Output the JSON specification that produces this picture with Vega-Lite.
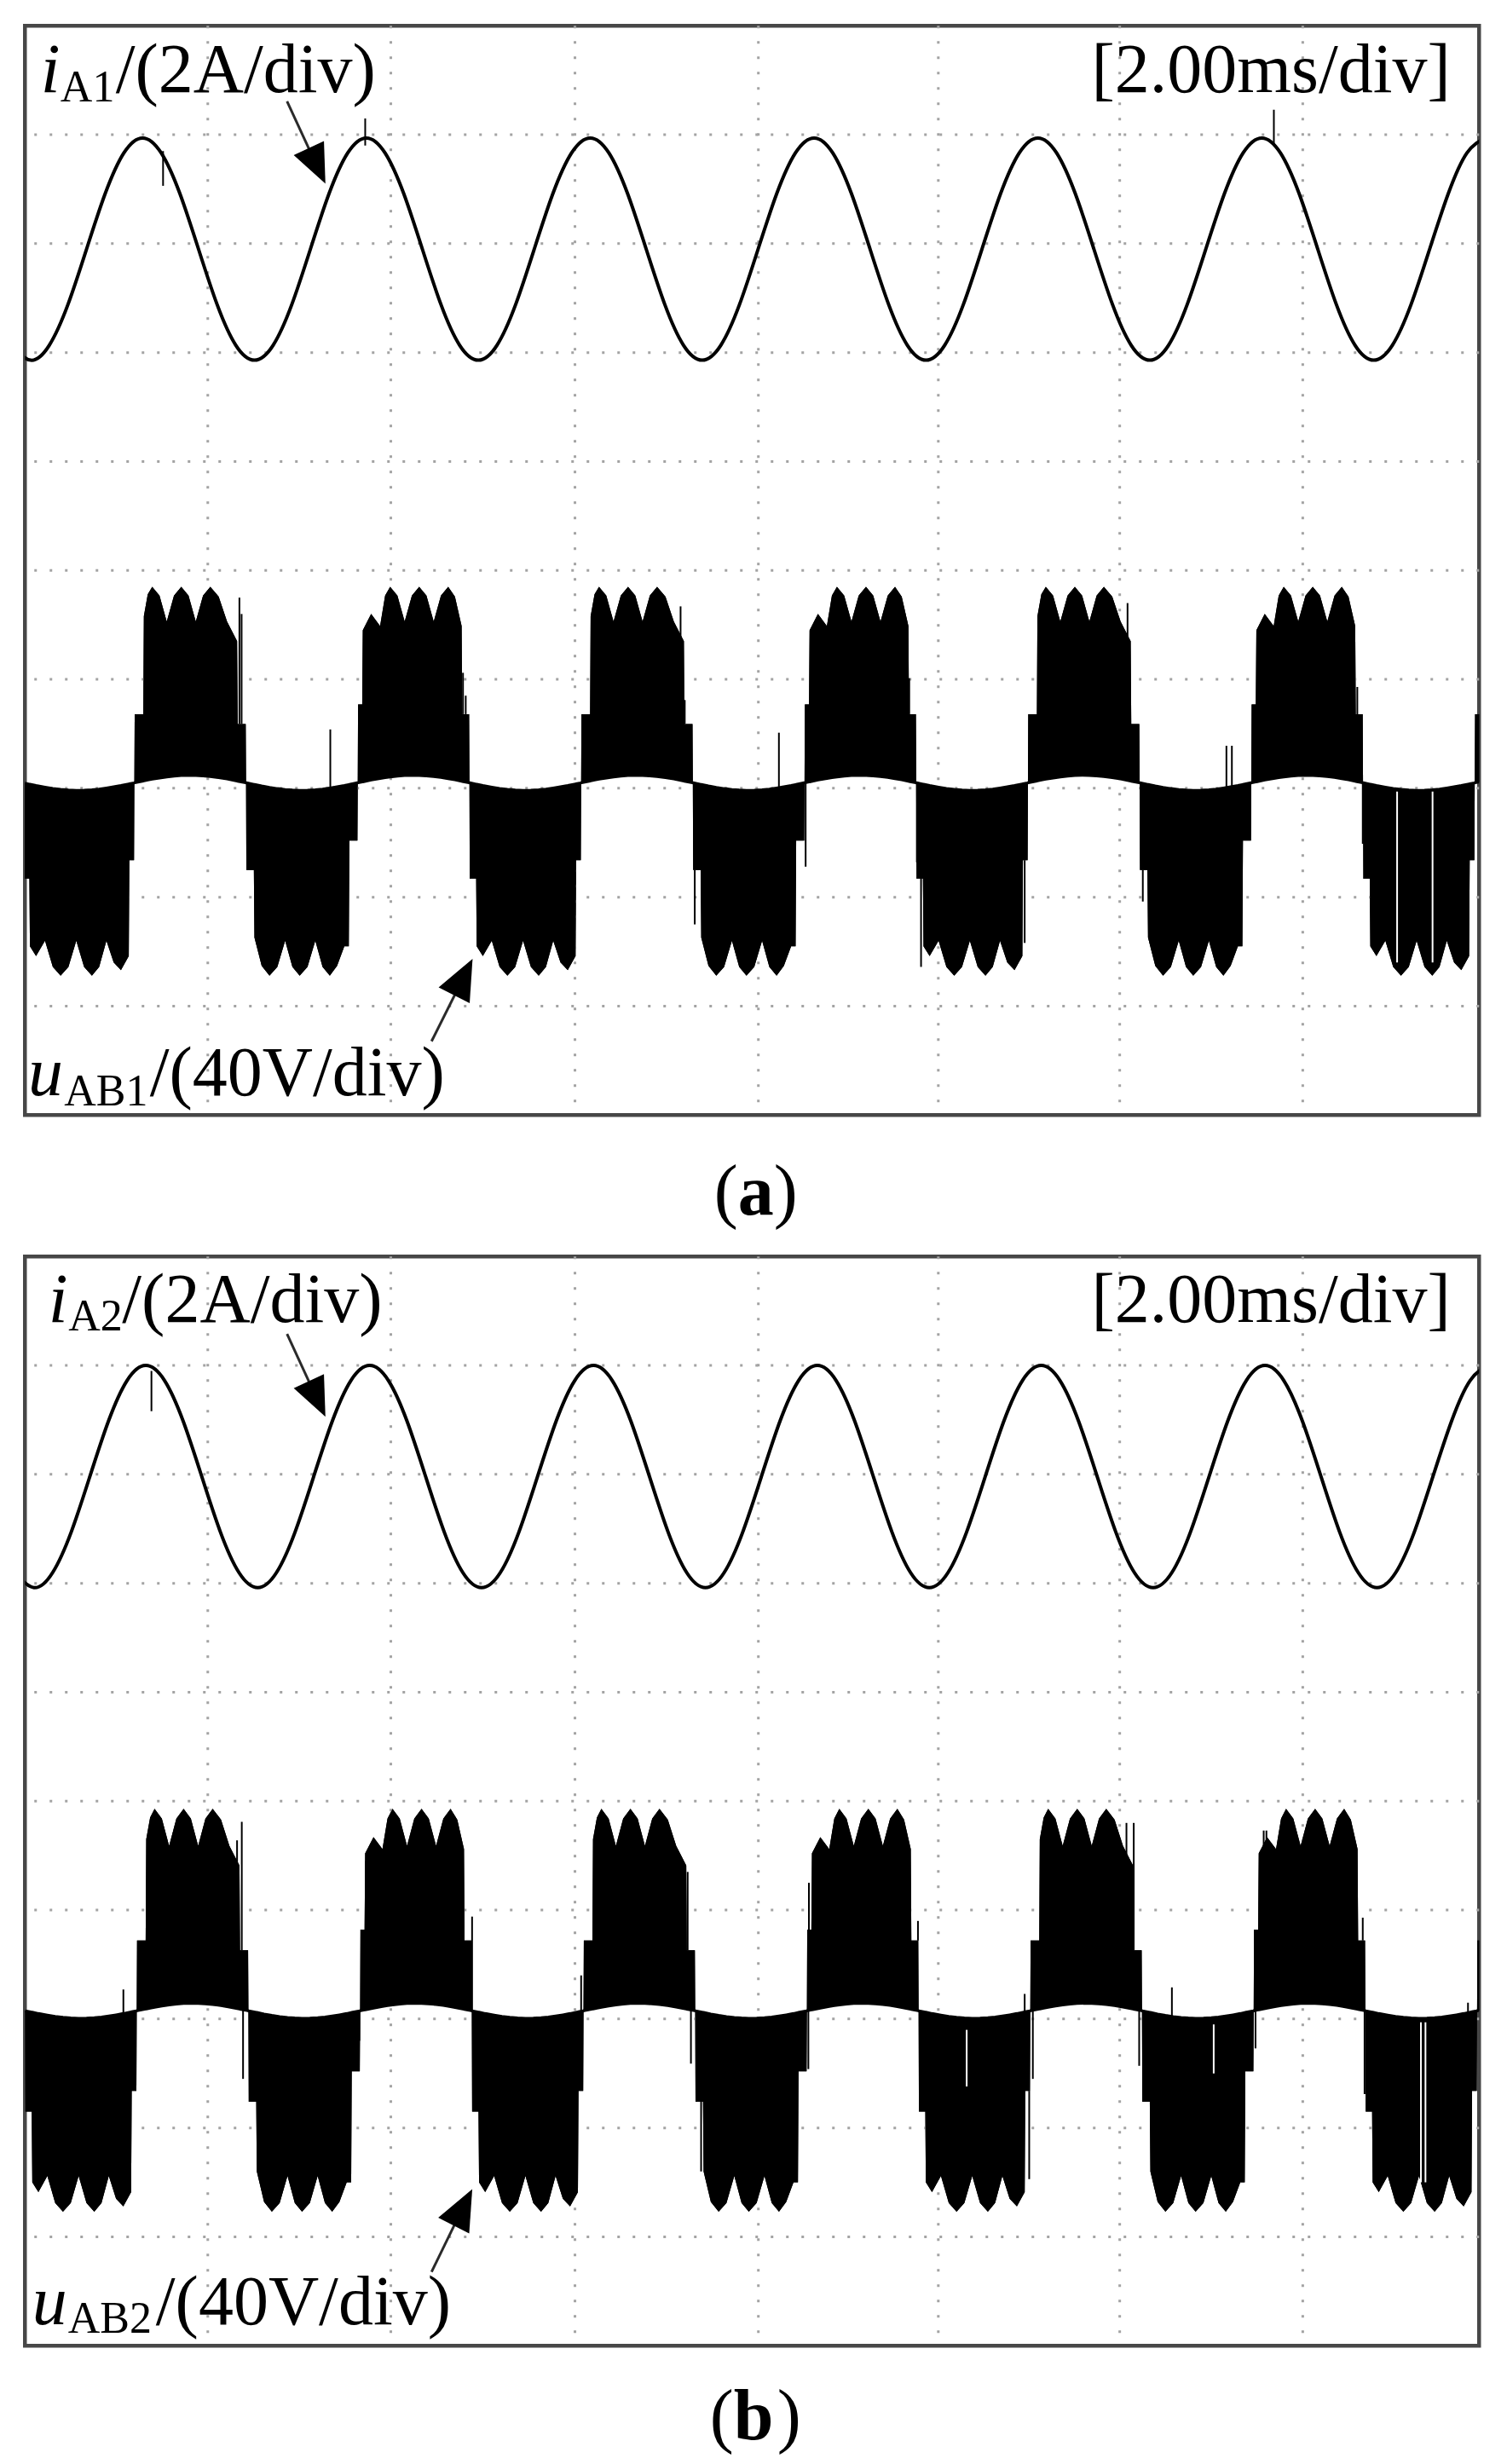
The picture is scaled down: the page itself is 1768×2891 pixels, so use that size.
{
"$schema":"https://vega.github.io/schema/vega-lite/v6.json",
"padding":{"left":25.25,"top":26.25,"right":0,"bottom":0},
"background":"white",
"bounds":"flush",
"spacing":166,
"config":{"view":{"stroke":"#474747","strokeWidth":4.5},"axis":{"labels":false,"ticks":false,"domain":false,"grid":false},"text":{"font":"Liberation Serif","color":"black"}},
"datasets":{
"ua":[
{"t":-0.0125,"v":3.05,"b":3.05},{"t":-0.0107,"v":2.17,"b":3.049},{"t":0.0244,"v":2.17,"b":3.037},{"t":0.0274,"v":1.55,"b":3.036},{"t":0.0612,"v":1.46,"b":3.024},{"t":0.1104,"v":1.6,"b":3.009},{"t":0.1534,"v":1.36,"b":2.997},{"t":0.1964,"v":1.28,"b":2.989},{"t":0.2394,"v":1.36,"b":2.983},{"t":0.2825,"v":1.6,"b":2.98},{"t":0.3255,"v":1.36,"b":2.981},{"t":0.3685,"v":1.28,"b":2.985},{"t":0.4084,"v":1.36,"b":2.991},{"t":0.4484,"v":1.6,"b":3.001},{"t":0.4883,"v":1.4,"b":3.012},{"t":0.5283,"v":1.33,"b":3.024},{"t":0.5713,"v":1.46,"b":3.039},{"t":0.5744,"v":2.34,"b":3.04},{"t":0.6002,"v":2.34,"b":3.049},
{"t":0.602,"v":3.05,"b":3.05},{"t":0.6038,"v":3.68,"b":3.051},{"t":0.6512,"v":3.68,"b":3.067},{"t":0.6542,"v":4.58,"b":3.068},{"t":0.6757,"v":4.78,"b":3.076},{"t":0.7003,"v":4.85,"b":3.084},{"t":0.7403,"v":4.77,"b":3.095},{"t":0.7802,"v":4.53,"b":3.105},{"t":0.8201,"v":4.77,"b":3.113},{"t":0.8601,"v":4.85,"b":3.118},{"t":0.9,"v":4.77,"b":3.12},{"t":0.94,"v":4.53,"b":3.119},{"t":0.9799,"v":4.77,"b":3.115},{"t":1.0199,"v":4.85,"b":3.109},{"t":1.0659,"v":4.76,"b":3.099},{"t":1.112,"v":4.53,"b":3.086},{"t":1.1673,"v":4.35,"b":3.067},{"t":1.1704,"v":3.59,"b":3.066},{"t":1.2147,"v":3.59,"b":3.051},
{"t":1.2165,"v":3.05,"b":3.05},{"t":1.2183,"v":2.25,"b":3.049},{"t":1.2595,"v":2.25,"b":3.035},{"t":1.2626,"v":1.63,"b":3.034},{"t":1.3025,"v":1.37,"b":3.02},{"t":1.3455,"v":1.28,"b":3.007},{"t":1.3886,"v":1.36,"b":2.996},{"t":1.4316,"v":1.6,"b":2.988},{"t":1.4715,"v":1.36,"b":2.983},{"t":1.5115,"v":1.28,"b":2.98},{"t":1.5545,"v":1.36,"b":2.981},{"t":1.5975,"v":1.6,"b":2.985},{"t":1.6374,"v":1.36,"b":2.991},{"t":1.6774,"v":1.28,"b":3.001},{"t":1.7173,"v":1.37,"b":3.012},{"t":1.7573,"v":1.55,"b":3.024},{"t":1.7818,"v":1.55,"b":3.033},{"t":1.7849,"v":2.52,"b":3.034},{"t":1.8292,"v":2.52,"b":3.049},
{"t":1.831,"v":3.05,"b":3.05},{"t":1.8328,"v":3.77,"b":3.051},{"t":1.8556,"v":3.77,"b":3.059},{"t":1.8587,"v":4.45,"b":3.06},{"t":1.9047,"v":4.6,"b":3.076},{"t":1.9539,"v":4.49,"b":3.091},{"t":1.9816,"v":4.77,"b":3.099},{"t":2.0092,"v":4.85,"b":3.105},{"t":2.0491,"v":4.77,"b":3.113},{"t":2.0891,"v":4.53,"b":3.118},{"t":2.129,"v":4.77,"b":3.12},{"t":2.169,"v":4.85,"b":3.119},{"t":2.2089,"v":4.77,"b":3.115},{"t":2.2489,"v":4.53,"b":3.109},{"t":2.2888,"v":4.77,"b":3.1},{"t":2.3287,"v":4.85,"b":3.089},{"t":2.3656,"v":4.76,"b":3.078},{"t":2.4025,"v":4.49,"b":3.065},{"t":2.4056,"v":3.68,"b":3.064},{"t":2.4437,"v":3.68,"b":3.051},
{"t":2.4455,"v":3.05,"b":3.05},{"t":2.4473,"v":2.17,"b":3.049},{"t":2.4824,"v":2.17,"b":3.037},{"t":2.4854,"v":1.55,"b":3.036},{"t":2.5192,"v":1.46,"b":3.024},{"t":2.5684,"v":1.6,"b":3.009},{"t":2.6114,"v":1.36,"b":2.997},{"t":2.6544,"v":1.28,"b":2.989},{"t":2.6974,"v":1.36,"b":2.983},{"t":2.7405,"v":1.6,"b":2.98},{"t":2.7835,"v":1.36,"b":2.981},{"t":2.8265,"v":1.28,"b":2.985},{"t":2.8664,"v":1.36,"b":2.991},{"t":2.9064,"v":1.6,"b":3.001},{"t":2.9463,"v":1.4,"b":3.012},{"t":2.9863,"v":1.33,"b":3.024},{"t":3.0293,"v":1.46,"b":3.039},{"t":3.0324,"v":2.34,"b":3.04},{"t":3.0582,"v":2.34,"b":3.049},
{"t":3.06,"v":3.05,"b":3.05},{"t":3.0618,"v":3.68,"b":3.051},{"t":3.1092,"v":3.68,"b":3.067},{"t":3.1122,"v":4.58,"b":3.068},{"t":3.1337,"v":4.78,"b":3.076},{"t":3.1583,"v":4.85,"b":3.084},{"t":3.1983,"v":4.77,"b":3.095},{"t":3.2382,"v":4.53,"b":3.105},{"t":3.2781,"v":4.77,"b":3.113},{"t":3.3181,"v":4.85,"b":3.118},{"t":3.358,"v":4.77,"b":3.12},{"t":3.398,"v":4.53,"b":3.119},{"t":3.4379,"v":4.77,"b":3.115},{"t":3.4779,"v":4.85,"b":3.109},{"t":3.5239,"v":4.76,"b":3.099},{"t":3.57,"v":4.53,"b":3.086},{"t":3.6253,"v":4.35,"b":3.067},{"t":3.6284,"v":3.59,"b":3.066},{"t":3.6727,"v":3.59,"b":3.051},
{"t":3.6745,"v":3.05,"b":3.05},{"t":3.6763,"v":2.25,"b":3.049},{"t":3.7175,"v":2.25,"b":3.035},{"t":3.7206,"v":1.63,"b":3.034},{"t":3.7605,"v":1.37,"b":3.02},{"t":3.8035,"v":1.28,"b":3.007},{"t":3.8466,"v":1.36,"b":2.996},{"t":3.8896,"v":1.6,"b":2.988},{"t":3.9295,"v":1.36,"b":2.983},{"t":3.9695,"v":1.28,"b":2.98},{"t":4.0125,"v":1.36,"b":2.981},{"t":4.0555,"v":1.6,"b":2.985},{"t":4.0954,"v":1.36,"b":2.991},{"t":4.1354,"v":1.28,"b":3.001},{"t":4.1753,"v":1.37,"b":3.012},{"t":4.2153,"v":1.55,"b":3.024},{"t":4.2398,"v":1.55,"b":3.033},{"t":4.2429,"v":2.52,"b":3.034},{"t":4.2872,"v":2.52,"b":3.049},
{"t":4.289,"v":3.05,"b":3.05},{"t":4.2908,"v":3.77,"b":3.051},{"t":4.3136,"v":3.77,"b":3.059},{"t":4.3167,"v":4.45,"b":3.06},{"t":4.3627,"v":4.6,"b":3.076},{"t":4.4119,"v":4.49,"b":3.091},{"t":4.4396,"v":4.77,"b":3.099},{"t":4.4672,"v":4.85,"b":3.105},{"t":4.5071,"v":4.77,"b":3.113},{"t":4.5471,"v":4.53,"b":3.118},{"t":4.587,"v":4.77,"b":3.12},{"t":4.627,"v":4.85,"b":3.119},{"t":4.6669,"v":4.77,"b":3.115},{"t":4.7069,"v":4.53,"b":3.109},{"t":4.7468,"v":4.77,"b":3.1},{"t":4.7867,"v":4.85,"b":3.089},{"t":4.8236,"v":4.76,"b":3.078},{"t":4.8605,"v":4.49,"b":3.065},{"t":4.8636,"v":3.68,"b":3.064},{"t":4.9017,"v":3.68,"b":3.051},
{"t":4.9035,"v":3.05,"b":3.05},{"t":4.9053,"v":2.17,"b":3.049},{"t":4.9404,"v":2.17,"b":3.037},{"t":4.9434,"v":1.55,"b":3.036},{"t":4.9772,"v":1.46,"b":3.024},{"t":5.0264,"v":1.6,"b":3.009},{"t":5.0694,"v":1.36,"b":2.997},{"t":5.1124,"v":1.28,"b":2.989},{"t":5.1554,"v":1.36,"b":2.983},{"t":5.1985,"v":1.6,"b":2.98},{"t":5.2415,"v":1.36,"b":2.981},{"t":5.2845,"v":1.28,"b":2.985},{"t":5.3244,"v":1.36,"b":2.991},{"t":5.3644,"v":1.6,"b":3.001},{"t":5.4043,"v":1.4,"b":3.012},{"t":5.4443,"v":1.33,"b":3.024},{"t":5.4873,"v":1.46,"b":3.039},{"t":5.4904,"v":2.34,"b":3.04},{"t":5.5162,"v":2.34,"b":3.049},
{"t":5.518,"v":3.05,"b":3.05},{"t":5.5198,"v":3.68,"b":3.051},{"t":5.5672,"v":3.68,"b":3.067},{"t":5.5702,"v":4.58,"b":3.068},{"t":5.5917,"v":4.78,"b":3.076},{"t":5.6163,"v":4.85,"b":3.084},{"t":5.6563,"v":4.77,"b":3.095},{"t":5.6962,"v":4.53,"b":3.105},{"t":5.7361,"v":4.77,"b":3.113},{"t":5.7761,"v":4.85,"b":3.118},{"t":5.816,"v":4.77,"b":3.12},{"t":5.856,"v":4.53,"b":3.119},{"t":5.8959,"v":4.77,"b":3.115},{"t":5.9359,"v":4.85,"b":3.109},{"t":5.9819,"v":4.76,"b":3.099},{"t":6.028,"v":4.53,"b":3.086},{"t":6.0833,"v":4.35,"b":3.067},{"t":6.0864,"v":3.59,"b":3.066},{"t":6.1307,"v":3.59,"b":3.051},
{"t":6.1325,"v":3.05,"b":3.05},{"t":6.1343,"v":2.25,"b":3.049},{"t":6.1755,"v":2.25,"b":3.035},{"t":6.1786,"v":1.63,"b":3.034},{"t":6.2185,"v":1.37,"b":3.02},{"t":6.2615,"v":1.28,"b":3.007},{"t":6.3046,"v":1.36,"b":2.996},{"t":6.3476,"v":1.6,"b":2.988},{"t":6.3875,"v":1.36,"b":2.983},{"t":6.4275,"v":1.28,"b":2.98},{"t":6.4705,"v":1.36,"b":2.981},{"t":6.5135,"v":1.6,"b":2.985},{"t":6.5534,"v":1.36,"b":2.991},{"t":6.5934,"v":1.28,"b":3.001},{"t":6.6333,"v":1.37,"b":3.012},{"t":6.6733,"v":1.55,"b":3.024},{"t":6.6978,"v":1.55,"b":3.033},{"t":6.7009,"v":2.52,"b":3.034},{"t":6.7452,"v":2.52,"b":3.049},
{"t":6.747,"v":3.05,"b":3.05},{"t":6.7488,"v":3.77,"b":3.051},{"t":6.7716,"v":3.77,"b":3.059},{"t":6.7747,"v":4.45,"b":3.06},{"t":6.8207,"v":4.6,"b":3.076},{"t":6.8699,"v":4.49,"b":3.091},{"t":6.8976,"v":4.77,"b":3.099},{"t":6.9252,"v":4.85,"b":3.105},{"t":6.9651,"v":4.77,"b":3.113},{"t":7.0051,"v":4.53,"b":3.118},{"t":7.045,"v":4.77,"b":3.12},{"t":7.085,"v":4.85,"b":3.119},{"t":7.1249,"v":4.77,"b":3.115},{"t":7.1649,"v":4.53,"b":3.109},{"t":7.2048,"v":4.77,"b":3.1},{"t":7.2447,"v":4.85,"b":3.089},{"t":7.2816,"v":4.76,"b":3.078},{"t":7.3185,"v":4.49,"b":3.065},{"t":7.3216,"v":3.68,"b":3.064},{"t":7.3597,"v":3.68,"b":3.051},
{"t":7.3615,"v":3.05,"b":3.05},{"t":7.3633,"v":2.17,"b":3.049},{"t":7.3984,"v":2.17,"b":3.037},{"t":7.4014,"v":1.55,"b":3.036},{"t":7.4352,"v":1.46,"b":3.024},{"t":7.4844,"v":1.6,"b":3.009},{"t":7.5274,"v":1.36,"b":2.997},{"t":7.5704,"v":1.28,"b":2.989},{"t":7.6134,"v":1.36,"b":2.983},{"t":7.6565,"v":1.6,"b":2.98},{"t":7.6995,"v":1.36,"b":2.981},{"t":7.7425,"v":1.28,"b":2.985},{"t":7.7824,"v":1.36,"b":2.991},{"t":7.8224,"v":1.6,"b":3.001},{"t":7.8623,"v":1.4,"b":3.012},{"t":7.9023,"v":1.33,"b":3.024},{"t":7.9453,"v":1.46,"b":3.039},{"t":7.9484,"v":2.34,"b":3.04},{"t":7.9742,"v":2.34,"b":3.049},
{"t":7.976,"v":3.05,"b":3.05},{"t":7.9778,"v":3.68,"b":3.051},{"t":8.0252,"v":3.68,"b":3.067}
],
"ub":[
{"t":0.0005,"v":3.075,"b":3.075},{"t":0.0023,"v":2.15,"b":3.074},{"t":0.0374,"v":2.15,"b":3.062},{"t":0.0404,"v":1.5,"b":3.061},{"t":0.0742,"v":1.41,"b":3.049},{"t":0.1234,"v":1.56,"b":3.034},{"t":0.1664,"v":1.31,"b":3.022},{"t":0.2094,"v":1.23,"b":3.014},{"t":0.2524,"v":1.31,"b":3.008},{"t":0.2955,"v":1.56,"b":3.005},{"t":0.3385,"v":1.31,"b":3.006},{"t":0.3815,"v":1.23,"b":3.01},{"t":0.4214,"v":1.31,"b":3.016},{"t":0.4614,"v":1.56,"b":3.026},{"t":0.5013,"v":1.35,"b":3.037},{"t":0.5413,"v":1.28,"b":3.049},{"t":0.5843,"v":1.41,"b":3.064},{"t":0.5874,"v":2.34,"b":3.065},{"t":0.6132,"v":2.34,"b":3.074},
{"t":0.615,"v":3.075,"b":3.075},{"t":0.6168,"v":3.72,"b":3.076},{"t":0.6642,"v":3.72,"b":3.092},{"t":0.6672,"v":4.65,"b":3.093},{"t":0.6887,"v":4.85,"b":3.101},{"t":0.7133,"v":4.93,"b":3.109},{"t":0.7533,"v":4.84,"b":3.12},{"t":0.7932,"v":4.59,"b":3.13},{"t":0.8331,"v":4.84,"b":3.138},{"t":0.8731,"v":4.93,"b":3.143},{"t":0.913,"v":4.84,"b":3.145},{"t":0.953,"v":4.59,"b":3.144},{"t":0.9929,"v":4.84,"b":3.14},{"t":1.0329,"v":4.93,"b":3.134},{"t":1.0789,"v":4.83,"b":3.124},{"t":1.125,"v":4.59,"b":3.111},{"t":1.1803,"v":4.41,"b":3.092},{"t":1.1834,"v":3.63,"b":3.091},{"t":1.2277,"v":3.63,"b":3.076},
{"t":1.2295,"v":3.075,"b":3.075},{"t":1.2313,"v":2.24,"b":3.074},{"t":1.2725,"v":2.24,"b":3.06},{"t":1.2756,"v":1.6,"b":3.059},{"t":1.3155,"v":1.32,"b":3.045},{"t":1.3585,"v":1.23,"b":3.032},{"t":1.4016,"v":1.31,"b":3.021},{"t":1.4446,"v":1.56,"b":3.013},{"t":1.4845,"v":1.31,"b":3.008},{"t":1.5245,"v":1.23,"b":3.005},{"t":1.5675,"v":1.31,"b":3.006},{"t":1.6105,"v":1.56,"b":3.01},{"t":1.6504,"v":1.31,"b":3.016},{"t":1.6904,"v":1.23,"b":3.026},{"t":1.7303,"v":1.32,"b":3.037},{"t":1.7703,"v":1.5,"b":3.049},{"t":1.7948,"v":1.5,"b":3.058},{"t":1.7979,"v":2.52,"b":3.059},{"t":1.8422,"v":2.52,"b":3.074},
{"t":1.844,"v":3.075,"b":3.075},{"t":1.8458,"v":3.82,"b":3.076},{"t":1.8686,"v":3.82,"b":3.084},{"t":1.8717,"v":4.52,"b":3.085},{"t":1.9177,"v":4.67,"b":3.101},{"t":1.9669,"v":4.56,"b":3.116},{"t":1.9946,"v":4.84,"b":3.124},{"t":2.0222,"v":4.93,"b":3.13},{"t":2.0621,"v":4.84,"b":3.138},{"t":2.1021,"v":4.59,"b":3.143},{"t":2.142,"v":4.84,"b":3.145},{"t":2.182,"v":4.93,"b":3.144},{"t":2.2219,"v":4.84,"b":3.14},{"t":2.2619,"v":4.59,"b":3.134},{"t":2.3018,"v":4.84,"b":3.125},{"t":2.3417,"v":4.93,"b":3.114},{"t":2.3786,"v":4.83,"b":3.103},{"t":2.4155,"v":4.56,"b":3.09},{"t":2.4186,"v":3.72,"b":3.089},{"t":2.4567,"v":3.72,"b":3.076},
{"t":2.4585,"v":3.075,"b":3.075},{"t":2.4603,"v":2.15,"b":3.074},{"t":2.4954,"v":2.15,"b":3.062},{"t":2.4984,"v":1.5,"b":3.061},{"t":2.5322,"v":1.41,"b":3.049},{"t":2.5814,"v":1.56,"b":3.034},{"t":2.6244,"v":1.31,"b":3.022},{"t":2.6674,"v":1.23,"b":3.014},{"t":2.7104,"v":1.31,"b":3.008},{"t":2.7535,"v":1.56,"b":3.005},{"t":2.7965,"v":1.31,"b":3.006},{"t":2.8395,"v":1.23,"b":3.01},{"t":2.8794,"v":1.31,"b":3.016},{"t":2.9194,"v":1.56,"b":3.026},{"t":2.9593,"v":1.35,"b":3.037},{"t":2.9993,"v":1.28,"b":3.049},{"t":3.0423,"v":1.41,"b":3.064},{"t":3.0454,"v":2.34,"b":3.065},{"t":3.0712,"v":2.34,"b":3.074},
{"t":3.073,"v":3.075,"b":3.075},{"t":3.0748,"v":3.72,"b":3.076},{"t":3.1222,"v":3.72,"b":3.092},{"t":3.1252,"v":4.65,"b":3.093},{"t":3.1467,"v":4.85,"b":3.101},{"t":3.1713,"v":4.93,"b":3.109},{"t":3.2113,"v":4.84,"b":3.12},{"t":3.2512,"v":4.59,"b":3.13},{"t":3.2911,"v":4.84,"b":3.138},{"t":3.3311,"v":4.93,"b":3.143},{"t":3.371,"v":4.84,"b":3.145},{"t":3.411,"v":4.59,"b":3.144},{"t":3.4509,"v":4.84,"b":3.14},{"t":3.4909,"v":4.93,"b":3.134},{"t":3.5369,"v":4.83,"b":3.124},{"t":3.583,"v":4.59,"b":3.111},{"t":3.6383,"v":4.41,"b":3.092},{"t":3.6414,"v":3.63,"b":3.091},{"t":3.6857,"v":3.63,"b":3.076},
{"t":3.6875,"v":3.075,"b":3.075},{"t":3.6893,"v":2.24,"b":3.074},{"t":3.7305,"v":2.24,"b":3.06},{"t":3.7336,"v":1.6,"b":3.059},{"t":3.7735,"v":1.32,"b":3.045},{"t":3.8165,"v":1.23,"b":3.032},{"t":3.8596,"v":1.31,"b":3.021},{"t":3.9026,"v":1.56,"b":3.013},{"t":3.9425,"v":1.31,"b":3.008},{"t":3.9825,"v":1.23,"b":3.005},{"t":4.0255,"v":1.31,"b":3.006},{"t":4.0685,"v":1.56,"b":3.01},{"t":4.1084,"v":1.31,"b":3.016},{"t":4.1484,"v":1.23,"b":3.026},{"t":4.1883,"v":1.32,"b":3.037},{"t":4.2283,"v":1.5,"b":3.049},{"t":4.2528,"v":1.5,"b":3.058},{"t":4.2559,"v":2.52,"b":3.059},{"t":4.3002,"v":2.52,"b":3.074},
{"t":4.302,"v":3.075,"b":3.075},{"t":4.3038,"v":3.82,"b":3.076},{"t":4.3266,"v":3.82,"b":3.084},{"t":4.3297,"v":4.52,"b":3.085},{"t":4.3757,"v":4.67,"b":3.101},{"t":4.4249,"v":4.56,"b":3.116},{"t":4.4526,"v":4.84,"b":3.124},{"t":4.4802,"v":4.93,"b":3.13},{"t":4.5201,"v":4.84,"b":3.138},{"t":4.5601,"v":4.59,"b":3.143},{"t":4.6,"v":4.84,"b":3.145},{"t":4.64,"v":4.93,"b":3.144},{"t":4.6799,"v":4.84,"b":3.14},{"t":4.7199,"v":4.59,"b":3.134},{"t":4.7598,"v":4.84,"b":3.125},{"t":4.7997,"v":4.93,"b":3.114},{"t":4.8366,"v":4.83,"b":3.103},{"t":4.8735,"v":4.56,"b":3.09},{"t":4.8766,"v":3.72,"b":3.089},{"t":4.9147,"v":3.72,"b":3.076},
{"t":4.9165,"v":3.075,"b":3.075},{"t":4.9183,"v":2.15,"b":3.074},{"t":4.9534,"v":2.15,"b":3.062},{"t":4.9564,"v":1.5,"b":3.061},{"t":4.9902,"v":1.41,"b":3.049},{"t":5.0394,"v":1.56,"b":3.034},{"t":5.0824,"v":1.31,"b":3.022},{"t":5.1254,"v":1.23,"b":3.014},{"t":5.1684,"v":1.31,"b":3.008},{"t":5.2115,"v":1.56,"b":3.005},{"t":5.2545,"v":1.31,"b":3.006},{"t":5.2975,"v":1.23,"b":3.01},{"t":5.3374,"v":1.31,"b":3.016},{"t":5.3774,"v":1.56,"b":3.026},{"t":5.4173,"v":1.35,"b":3.037},{"t":5.4573,"v":1.28,"b":3.049},{"t":5.5003,"v":1.41,"b":3.064},{"t":5.5034,"v":2.34,"b":3.065},{"t":5.5292,"v":2.34,"b":3.074},
{"t":5.531,"v":3.075,"b":3.075},{"t":5.5328,"v":3.72,"b":3.076},{"t":5.5802,"v":3.72,"b":3.092},{"t":5.5832,"v":4.65,"b":3.093},{"t":5.6047,"v":4.85,"b":3.101},{"t":5.6293,"v":4.93,"b":3.109},{"t":5.6693,"v":4.84,"b":3.12},{"t":5.7092,"v":4.59,"b":3.13},{"t":5.7491,"v":4.84,"b":3.138},{"t":5.7891,"v":4.93,"b":3.143},{"t":5.829,"v":4.84,"b":3.145},{"t":5.869,"v":4.59,"b":3.144},{"t":5.9089,"v":4.84,"b":3.14},{"t":5.9489,"v":4.93,"b":3.134},{"t":5.9949,"v":4.83,"b":3.124},{"t":6.041,"v":4.59,"b":3.111},{"t":6.0963,"v":4.41,"b":3.092},{"t":6.0994,"v":3.63,"b":3.091},{"t":6.1437,"v":3.63,"b":3.076},
{"t":6.1455,"v":3.075,"b":3.075},{"t":6.1473,"v":2.24,"b":3.074},{"t":6.1885,"v":2.24,"b":3.06},{"t":6.1916,"v":1.6,"b":3.059},{"t":6.2315,"v":1.32,"b":3.045},{"t":6.2745,"v":1.23,"b":3.032},{"t":6.3176,"v":1.31,"b":3.021},{"t":6.3606,"v":1.56,"b":3.013},{"t":6.4005,"v":1.31,"b":3.008},{"t":6.4405,"v":1.23,"b":3.005},{"t":6.4835,"v":1.31,"b":3.006},{"t":6.5265,"v":1.56,"b":3.01},{"t":6.5664,"v":1.31,"b":3.016},{"t":6.6064,"v":1.23,"b":3.026},{"t":6.6463,"v":1.32,"b":3.037},{"t":6.6863,"v":1.5,"b":3.049},{"t":6.7108,"v":1.5,"b":3.058},{"t":6.7139,"v":2.52,"b":3.059},{"t":6.7582,"v":2.52,"b":3.074},
{"t":6.76,"v":3.075,"b":3.075},{"t":6.7618,"v":3.82,"b":3.076},{"t":6.7846,"v":3.82,"b":3.084},{"t":6.7877,"v":4.52,"b":3.085},{"t":6.8337,"v":4.67,"b":3.101},{"t":6.8829,"v":4.56,"b":3.116},{"t":6.9106,"v":4.84,"b":3.124},{"t":6.9382,"v":4.93,"b":3.13},{"t":6.9781,"v":4.84,"b":3.138},{"t":7.0181,"v":4.59,"b":3.143},{"t":7.058,"v":4.84,"b":3.145},{"t":7.098,"v":4.93,"b":3.144},{"t":7.1379,"v":4.84,"b":3.14},{"t":7.1779,"v":4.59,"b":3.134},{"t":7.2178,"v":4.84,"b":3.125},{"t":7.2577,"v":4.93,"b":3.114},{"t":7.2946,"v":4.83,"b":3.103},{"t":7.3315,"v":4.56,"b":3.09},{"t":7.3346,"v":3.72,"b":3.089},{"t":7.3727,"v":3.72,"b":3.076},
{"t":7.3745,"v":3.075,"b":3.075},{"t":7.3763,"v":2.15,"b":3.074},{"t":7.4114,"v":2.15,"b":3.062},{"t":7.4144,"v":1.5,"b":3.061},{"t":7.4482,"v":1.41,"b":3.049},{"t":7.4974,"v":1.56,"b":3.034},{"t":7.5404,"v":1.31,"b":3.022},{"t":7.5834,"v":1.23,"b":3.014},{"t":7.6264,"v":1.31,"b":3.008},{"t":7.6695,"v":1.56,"b":3.005},{"t":7.7125,"v":1.31,"b":3.006},{"t":7.7555,"v":1.23,"b":3.01},{"t":7.7954,"v":1.31,"b":3.016},{"t":7.8354,"v":1.56,"b":3.026},{"t":7.8753,"v":1.35,"b":3.037},{"t":7.9153,"v":1.28,"b":3.049},{"t":7.9583,"v":1.41,"b":3.064},{"t":7.9614,"v":2.34,"b":3.065},{"t":7.9872,"v":2.34,"b":3.074},
{"t":7.989,"v":3.075,"b":3.075},{"t":7.9908,"v":3.72,"b":3.076},{"t":8.0382,"v":3.72,"b":3.092}
],
"ia":[
{"t":-0.0714,"i":7.067},{"t":0.0313,"i":6.93},{"t":0.1339,"i":7.067},{"t":0.2365,"i":7.44},{"t":0.3391,"i":7.95},{"t":0.4418,"i":8.46},{"t":0.5444,"i":8.833},{"t":0.647,"i":8.97},{"t":0.7496,"i":8.833},{"t":0.8523,"i":8.46},{"t":0.9549,"i":7.95},{"t":1.0575,"i":7.44},{"t":1.1601,"i":7.067},{"t":1.2628,"i":6.93},{"t":1.3654,"i":7.067},{"t":1.468,"i":7.44},{"t":1.5706,"i":7.95},{"t":1.6733,"i":8.46},{"t":1.7759,"i":8.833},{"t":1.8785,"i":8.97},{"t":1.9811,"i":8.833},{"t":2.0838,"i":8.46},{"t":2.1864,"i":7.95},{"t":2.289,"i":7.44},{"t":2.3916,"i":7.067},{"t":2.4943,"i":6.93},{"t":2.5969,"i":7.067},{"t":2.6995,"i":7.44},{"t":2.8021,"i":7.95},{"t":2.9048,"i":8.46},{"t":3.0074,"i":8.833},{"t":3.11,"i":8.97},{"t":3.2126,"i":8.833},{"t":3.3153,"i":8.46},{"t":3.4179,"i":7.95},{"t":3.5205,"i":7.44},{"t":3.6231,"i":7.067},{"t":3.7258,"i":6.93},{"t":3.8284,"i":7.067},{"t":3.931,"i":7.44},{"t":4.0336,"i":7.95},{"t":4.1363,"i":8.46},{"t":4.2389,"i":8.833},{"t":4.3415,"i":8.97},{"t":4.4441,"i":8.833},{"t":4.5468,"i":8.46},{"t":4.6494,"i":7.95},{"t":4.752,"i":7.44},{"t":4.8546,"i":7.067},{"t":4.9573,"i":6.93},{"t":5.0599,"i":7.067},{"t":5.1625,"i":7.44},{"t":5.2651,"i":7.95},{"t":5.3678,"i":8.46},{"t":5.4704,"i":8.833},{"t":5.573,"i":8.97},{"t":5.6756,"i":8.833},{"t":5.7783,"i":8.46},{"t":5.8809,"i":7.95},{"t":5.9835,"i":7.44},{"t":6.0861,"i":7.067},{"t":6.1888,"i":6.93},{"t":6.2914,"i":7.067},{"t":6.394,"i":7.44},{"t":6.4966,"i":7.95},{"t":6.5993,"i":8.46},{"t":6.7019,"i":8.833},{"t":6.8045,"i":8.97},{"t":6.9071,"i":8.833},{"t":7.0098,"i":8.46},{"t":7.1124,"i":7.95},{"t":7.215,"i":7.44},{"t":7.3176,"i":7.067},{"t":7.4203,"i":6.93},{"t":7.5229,"i":7.067},{"t":7.6255,"i":7.44},{"t":7.7281,"i":7.95},{"t":7.8308,"i":8.46},{"t":7.9334,"i":8.833},{"t":8.036,"i":8.97}
],
"ib":[
{"t":-0.0534,"i":7.097},{"t":0.0493,"i":6.96},{"t":0.1519,"i":7.097},{"t":0.2545,"i":7.47},{"t":0.3571,"i":7.98},{"t":0.4598,"i":8.49},{"t":0.5624,"i":8.863},{"t":0.665,"i":9.0},{"t":0.7676,"i":8.863},{"t":0.8703,"i":8.49},{"t":0.9729,"i":7.98},{"t":1.0755,"i":7.47},{"t":1.1781,"i":7.097},{"t":1.2808,"i":6.96},{"t":1.3834,"i":7.097},{"t":1.486,"i":7.47},{"t":1.5886,"i":7.98},{"t":1.6913,"i":8.49},{"t":1.7939,"i":8.863},{"t":1.8965,"i":9.0},{"t":1.9991,"i":8.863},{"t":2.1018,"i":8.49},{"t":2.2044,"i":7.98},{"t":2.307,"i":7.47},{"t":2.4096,"i":7.097},{"t":2.5123,"i":6.96},{"t":2.6149,"i":7.097},{"t":2.7175,"i":7.47},{"t":2.8201,"i":7.98},{"t":2.9228,"i":8.49},{"t":3.0254,"i":8.863},{"t":3.128,"i":9.0},{"t":3.2306,"i":8.863},{"t":3.3333,"i":8.49},{"t":3.4359,"i":7.98},{"t":3.5385,"i":7.47},{"t":3.6411,"i":7.097},{"t":3.7438,"i":6.96},{"t":3.8464,"i":7.097},{"t":3.949,"i":7.47},{"t":4.0516,"i":7.98},{"t":4.1543,"i":8.49},{"t":4.2569,"i":8.863},{"t":4.3595,"i":9.0},{"t":4.4621,"i":8.863},{"t":4.5648,"i":8.49},{"t":4.6674,"i":7.98},{"t":4.77,"i":7.47},{"t":4.8726,"i":7.097},{"t":4.9753,"i":6.96},{"t":5.0779,"i":7.097},{"t":5.1805,"i":7.47},{"t":5.2831,"i":7.98},{"t":5.3858,"i":8.49},{"t":5.4884,"i":8.863},{"t":5.591,"i":9.0},{"t":5.6936,"i":8.863},{"t":5.7963,"i":8.49},{"t":5.8989,"i":7.98},{"t":6.0015,"i":7.47},{"t":6.1041,"i":7.097},{"t":6.2068,"i":6.96},{"t":6.3094,"i":7.097},{"t":6.412,"i":7.47},{"t":6.5146,"i":7.98},{"t":6.6173,"i":8.49},{"t":6.7199,"i":8.863},{"t":6.8225,"i":9.0},{"t":6.9251,"i":8.863},{"t":7.0278,"i":8.49},{"t":7.1304,"i":7.98},{"t":7.233,"i":7.47},{"t":7.3356,"i":7.097},{"t":7.4383,"i":6.96},{"t":7.5409,"i":7.097},{"t":7.6435,"i":7.47},{"t":7.7461,"i":7.98},{"t":7.8488,"i":8.49},{"t":7.9514,"i":8.863},{"t":8.054,"i":9.0}
],
"sa":[
{"t":1.18,"lo":3.59,"hi":4.75},{"t":1.192,"lo":3.59,"hi":4.6},{"t":1.68,"lo":3.0,"hi":3.54},{"t":2.41,"lo":3.68,"hi":4.06},{"t":2.425,"lo":3.68,"hi":3.85},{"t":3.607,"lo":3.59,"hi":4.67},{"t":3.63,"lo":3.59,"hi":3.81},{"t":3.685,"lo":1.75,"hi":2.25},{"t":4.148,"lo":3.0,"hi":3.51},{"t":4.295,"lo":2.28,"hi":3.05},{"t":4.865,"lo":3.68,"hi":4.01},{"t":4.907,"lo":2.32,"hi":3.05},{"t":4.93,"lo":1.36,"hi":2.17},{"t":5.5,"lo":1.58,"hi":2.34},{"t":6.066,"lo":4.35,"hi":4.7},{"t":6.15,"lo":1.96,"hi":2.25},{"t":6.61,"lo":3.0,"hi":3.39},{"t":6.64,"lo":3.0,"hi":3.39},{"t":6.733,"lo":2.85,"hi":3.05},{"t":7.33,"lo":3.68,"hi":3.93},{"t":7.36,"lo":2.49,"hi":3.05},
{"t":1.872,"lo":8.9,"hi":9.15},{"t":6.871,"lo":8.9,"hi":9.23},{"t":0.76,"lo":8.53,"hi":8.85}
],
"sb":[
{"t":0.5416,"lo":3.0,"hi":3.27},{"t":1.167,"lo":3.63,"hi":4.64},{"t":1.193,"lo":3.63,"hi":4.81},{"t":1.2,"lo":2.45,"hi":3.08},{"t":1.84,"lo":2.8,"hi":3.08},{"t":1.877,"lo":3.82,"hi":4.45},{"t":2.46,"lo":3.07,"hi":3.94},{"t":3.06,"lo":3.0,"hi":3.4},{"t":3.646,"lo":3.63,"hi":4.35},{"t":3.664,"lo":2.59,"hi":3.08},{"t":3.72,"lo":1.6,"hi":2.24},{"t":4.31,"lo":2.54,"hi":3.08},{"t":4.313,"lo":3.82,"hi":4.25},{"t":4.913,"lo":3.72,"hi":3.9},{"t":5.5,"lo":3.0,"hi":3.23},{"t":5.525,"lo":1.53,"hi":2.34},{"t":5.545,"lo":2.45,"hi":3.08},{"t":6.06,"lo":4.41,"hi":4.8},{"t":6.1,"lo":3.63,"hi":4.8},{"t":6.13,"lo":2.57,"hi":3.08},{"t":6.31,"lo":3.0,"hi":3.29},{"t":6.77,"lo":2.73,"hi":3.08},{"t":6.815,"lo":4.5,"hi":4.73},{"t":6.83,"lo":4.5,"hi":4.73},{"t":7.36,"lo":3.72,"hi":3.93},{"t":7.37,"lo":2.31,"hi":3.08},{"t":7.939,"lo":3.0,"hi":3.15},
{"t":0.696,"lo":8.58,"hi":8.95}
],
"wa":[{"t":7.549,"lo":1.4,"hi":2.97},{"t":7.744,"lo":1.4,"hi":2.97}],
"wb":[{"t":5.181,"lo":2.38,"hi":2.9},{"t":6.54,"lo":2.5,"hi":2.95},{"t":7.68,"lo":1.5,"hi":2.97},{"t":7.705,"lo":1.5,"hi":2.97}]
},
"vconcat":[
{"width":1706,"height":1278,"layer":[
{"data":{"name":"ua"},"mark":{"type":"area","color":"black","clip":true},"encoding":{"x":{"field":"t","type":"quantitative","scale":{"domain":[0,8],"nice":false,"zero":false},"axis":null},"y":{"field":"v","type":"quantitative","scale":{"domain":[0,10],"nice":false,"zero":false},"axis":null},"y2":{"field":"b"}}},
{"data":{"values":[{}]},"mark":{"type":"rule","color":"#a3a3a3","strokeWidth":3,"strokeDash":[3,15]},"encoding":{"x":{"datum":1.006,"type":"quantitative","axis":null}}},
{"data":{"values":[{}]},"mark":{"type":"rule","color":"#a3a3a3","strokeWidth":3,"strokeDash":[3,15]},"encoding":{"x":{"datum":2.013,"type":"quantitative","axis":null}}},
{"data":{"values":[{}]},"mark":{"type":"rule","color":"#a3a3a3","strokeWidth":3,"strokeDash":[3,15]},"encoding":{"x":{"datum":3.026,"type":"quantitative","axis":null}}},
{"data":{"values":[{}]},"mark":{"type":"rule","color":"#a3a3a3","strokeWidth":3,"strokeDash":[3,15]},"encoding":{"x":{"datum":4.035,"type":"quantitative","axis":null}}},
{"data":{"values":[{}]},"mark":{"type":"rule","color":"#a3a3a3","strokeWidth":3,"strokeDash":[3,15]},"encoding":{"x":{"datum":5.025,"type":"quantitative","axis":null}}},
{"data":{"values":[{}]},"mark":{"type":"rule","color":"#a3a3a3","strokeWidth":3,"strokeDash":[3,15]},"encoding":{"x":{"datum":6.023,"type":"quantitative","axis":null}}},
{"data":{"values":[{}]},"mark":{"type":"rule","color":"#a3a3a3","strokeWidth":3,"strokeDash":[3,15]},"encoding":{"x":{"datum":7.03,"type":"quantitative","axis":null}}},
{"data":{"values":[{}]},"mark":{"type":"rule","color":"#a3a3a3","strokeWidth":3,"strokeDash":[3,15]},"encoding":{"y":{"datum":1,"type":"quantitative","axis":null}}},
{"data":{"values":[{}]},"mark":{"type":"rule","color":"#a3a3a3","strokeWidth":3,"strokeDash":[3,15]},"encoding":{"y":{"datum":2,"type":"quantitative","axis":null}}},
{"data":{"values":[{}]},"mark":{"type":"rule","color":"#a3a3a3","strokeWidth":3,"strokeDash":[3,15]},"encoding":{"y":{"datum":3,"type":"quantitative","axis":null}}},
{"data":{"values":[{}]},"mark":{"type":"rule","color":"#a3a3a3","strokeWidth":3,"strokeDash":[3,15]},"encoding":{"y":{"datum":4,"type":"quantitative","axis":null}}},
{"data":{"values":[{}]},"mark":{"type":"rule","color":"#a3a3a3","strokeWidth":3,"strokeDash":[3,15]},"encoding":{"y":{"datum":5,"type":"quantitative","axis":null}}},
{"data":{"values":[{}]},"mark":{"type":"rule","color":"#a3a3a3","strokeWidth":3,"strokeDash":[3,15]},"encoding":{"y":{"datum":6,"type":"quantitative","axis":null}}},
{"data":{"values":[{}]},"mark":{"type":"rule","color":"#a3a3a3","strokeWidth":3,"strokeDash":[3,15]},"encoding":{"y":{"datum":7,"type":"quantitative","axis":null}}},
{"data":{"values":[{}]},"mark":{"type":"rule","color":"#a3a3a3","strokeWidth":3,"strokeDash":[3,15]},"encoding":{"y":{"datum":8,"type":"quantitative","axis":null}}},
{"data":{"values":[{}]},"mark":{"type":"rule","color":"#a3a3a3","strokeWidth":3,"strokeDash":[3,15]},"encoding":{"y":{"datum":9,"type":"quantitative","axis":null}}},
{"data":{"name":"ua"},"mark":{"type":"area","color":"black","clip":true},"encoding":{"x":{"field":"t","type":"quantitative","axis":null},"y":{"field":"v","type":"quantitative","axis":null},"y2":{"field":"b"}}},
{"data":{"name":"ua"},"mark":{"type":"line","color":"black","strokeWidth":3.5,"clip":true},"encoding":{"x":{"field":"t","type":"quantitative","axis":null},"y":{"field":"b","type":"quantitative","axis":null}}},
{"data":{"name":"sa"},"mark":{"type":"rule","color":"black","strokeWidth":2,"clip":true},"encoding":{"x":{"field":"t","type":"quantitative","axis":null},"y":{"field":"lo","type":"quantitative","axis":null},"y2":{"field":"hi"}}},
{"data":{"name":"wa"},"mark":{"type":"rule","color":"white","strokeWidth":2,"clip":true},"encoding":{"x":{"field":"t","type":"quantitative","axis":null},"y":{"field":"lo","type":"quantitative","axis":null},"y2":{"field":"hi"}}},
{"data":{"name":"ia"},"mark":{"type":"line","color":"black","strokeWidth":4,"interpolate":"natural","clip":true},"encoding":{"x":{"field":"t","type":"quantitative","axis":null},"y":{"field":"i","type":"quantitative","axis":null}}},
{"data":{"values":[{}]},"mark":{"type":"text","text":"i","fontStyle":"italic","fontSize":82,"align":"left","baseline":"alphabetic"},"encoding":{"x":{"datum":0.087,"type":"quantitative","axis":null},"y":{"datum":9.393,"type":"quantitative","axis":null}}},
{"data":{"values":[{}]},"mark":{"type":"text","text":"A1","fontSize":52,"align":"left","baseline":"alphabetic"},"encoding":{"x":{"datum":0.195,"type":"quantitative","axis":null},"y":{"datum":9.307,"type":"quantitative","axis":null}}},
{"data":{"values":[{}]},"mark":{"type":"text","text":"/(2A/div)","fontSize":82,"align":"left","baseline":"alphabetic"},"encoding":{"x":{"datum":0.4994,"type":"quantitative","axis":null},"y":{"datum":9.393,"type":"quantitative","axis":null}}},
{"data":{"values":[{}]},"mark":{"type":"text","text":"[2.00ms/div]","fontSize":82,"align":"right","baseline":"alphabetic"},"encoding":{"x":{"datum":7.843,"type":"quantitative","axis":null},"y":{"datum":9.39,"type":"quantitative","axis":null}}},
{"data":{"values":[{}]},"mark":{"type":"text","text":"u","fontStyle":"italic","fontSize":82,"align":"left","baseline":"alphabetic"},"encoding":{"x":{"datum":0.017,"type":"quantitative","axis":null},"y":{"datum":0.184,"type":"quantitative","axis":null}}},
{"data":{"values":[{}]},"mark":{"type":"text","text":"AB1","fontSize":52,"align":"left","baseline":"alphabetic"},"encoding":{"x":{"datum":0.2157,"type":"quantitative","axis":null},"y":{"datum":0.09,"type":"quantitative","axis":null}}},
{"data":{"values":[{}]},"mark":{"type":"text","text":"/(40V/div)","fontSize":82,"align":"left","baseline":"alphabetic"},"encoding":{"x":{"datum":0.687,"type":"quantitative","axis":null},"y":{"datum":0.184,"type":"quantitative","axis":null}}},
{"data":{"values":[{}]},"mark":{"type":"text","text":"(","fontSize":84,"align":"left","baseline":"alphabetic"},"encoding":{"x":{"datum":3.791,"type":"quantitative","axis":null},"y":{"datum":-0.914,"type":"quantitative","axis":null}}},
{"data":{"values":[{}]},"mark":{"type":"text","text":"a","fontSize":84,"fontWeight":"bold","align":"left","baseline":"alphabetic"},"encoding":{"x":{"datum":3.923,"type":"quantitative","axis":null},"y":{"datum":-0.914,"type":"quantitative","axis":null}}},
{"data":{"values":[{}]},"mark":{"type":"text","text":")","fontSize":84,"align":"left","baseline":"alphabetic"},"encoding":{"x":{"datum":4.12,"type":"quantitative","axis":null},"y":{"datum":-0.914,"type":"quantitative","axis":null}}},
{"data":{"values":[{}]},"mark":{"type":"rule","color":"#2a2a2a","strokeWidth":3},"encoding":{"x":{"datum":1.442,"type":"quantitative","axis":null},"y":{"datum":9.307,"type":"quantitative","axis":null},"x2":{"datum":1.606},"y2":{"datum":8.713}}},
{"data":{"values":[{}]},"mark":{"type":"point","shape":"M0,-1L0.85,1L-0.85,1Z","filled":true,"color":"black","opacity":1,"size":2116,"angle":155},"encoding":{"x":{"datum":1.6075,"type":"quantitative","axis":null},"y":{"datum":8.714,"type":"quantitative","axis":null}}},
{"data":{"values":[{}]},"mark":{"type":"rule","color":"#2a2a2a","strokeWidth":3},"encoding":{"x":{"datum":2.237,"type":"quantitative","axis":null},"y":{"datum":0.677,"type":"quantitative","axis":null},"x2":{"datum":2.413},"y2":{"datum":1.264}}},
{"data":{"values":[{}]},"mark":{"type":"point","shape":"M0,-1L0.85,1L-0.85,1Z","filled":true,"color":"black","opacity":1,"size":2300,"angle":26.8},"encoding":{"x":{"datum":2.412,"type":"quantitative","axis":null},"y":{"datum":1.267,"type":"quantitative","axis":null}}}
]},
{"width":1706,"height":1278,"layer":[
{"data":{"name":"ub"},"mark":{"type":"area","color":"black","clip":true},"encoding":{"x":{"field":"t","type":"quantitative","scale":{"domain":[0,8],"nice":false,"zero":false},"axis":null},"y":{"field":"v","type":"quantitative","scale":{"domain":[0,10],"nice":false,"zero":false},"axis":null},"y2":{"field":"b"}}},
{"data":{"values":[{}]},"mark":{"type":"rule","color":"#a3a3a3","strokeWidth":3,"strokeDash":[3,15]},"encoding":{"x":{"datum":1.006,"type":"quantitative","axis":null}}},
{"data":{"values":[{}]},"mark":{"type":"rule","color":"#a3a3a3","strokeWidth":3,"strokeDash":[3,15]},"encoding":{"x":{"datum":2.013,"type":"quantitative","axis":null}}},
{"data":{"values":[{}]},"mark":{"type":"rule","color":"#a3a3a3","strokeWidth":3,"strokeDash":[3,15]},"encoding":{"x":{"datum":3.026,"type":"quantitative","axis":null}}},
{"data":{"values":[{}]},"mark":{"type":"rule","color":"#a3a3a3","strokeWidth":3,"strokeDash":[3,15]},"encoding":{"x":{"datum":4.035,"type":"quantitative","axis":null}}},
{"data":{"values":[{}]},"mark":{"type":"rule","color":"#a3a3a3","strokeWidth":3,"strokeDash":[3,15]},"encoding":{"x":{"datum":5.025,"type":"quantitative","axis":null}}},
{"data":{"values":[{}]},"mark":{"type":"rule","color":"#a3a3a3","strokeWidth":3,"strokeDash":[3,15]},"encoding":{"x":{"datum":6.023,"type":"quantitative","axis":null}}},
{"data":{"values":[{}]},"mark":{"type":"rule","color":"#a3a3a3","strokeWidth":3,"strokeDash":[3,15]},"encoding":{"x":{"datum":7.03,"type":"quantitative","axis":null}}},
{"data":{"values":[{}]},"mark":{"type":"rule","color":"#a3a3a3","strokeWidth":3,"strokeDash":[3,15]},"encoding":{"y":{"datum":1,"type":"quantitative","axis":null}}},
{"data":{"values":[{}]},"mark":{"type":"rule","color":"#a3a3a3","strokeWidth":3,"strokeDash":[3,15]},"encoding":{"y":{"datum":2,"type":"quantitative","axis":null}}},
{"data":{"values":[{}]},"mark":{"type":"rule","color":"#a3a3a3","strokeWidth":3,"strokeDash":[3,15]},"encoding":{"y":{"datum":3,"type":"quantitative","axis":null}}},
{"data":{"values":[{}]},"mark":{"type":"rule","color":"#a3a3a3","strokeWidth":3,"strokeDash":[3,15]},"encoding":{"y":{"datum":4,"type":"quantitative","axis":null}}},
{"data":{"values":[{}]},"mark":{"type":"rule","color":"#a3a3a3","strokeWidth":3,"strokeDash":[3,15]},"encoding":{"y":{"datum":5,"type":"quantitative","axis":null}}},
{"data":{"values":[{}]},"mark":{"type":"rule","color":"#a3a3a3","strokeWidth":3,"strokeDash":[3,15]},"encoding":{"y":{"datum":6,"type":"quantitative","axis":null}}},
{"data":{"values":[{}]},"mark":{"type":"rule","color":"#a3a3a3","strokeWidth":3,"strokeDash":[3,15]},"encoding":{"y":{"datum":7,"type":"quantitative","axis":null}}},
{"data":{"values":[{}]},"mark":{"type":"rule","color":"#a3a3a3","strokeWidth":3,"strokeDash":[3,15]},"encoding":{"y":{"datum":8,"type":"quantitative","axis":null}}},
{"data":{"values":[{}]},"mark":{"type":"rule","color":"#a3a3a3","strokeWidth":3,"strokeDash":[3,15]},"encoding":{"y":{"datum":9,"type":"quantitative","axis":null}}},
{"data":{"name":"ub"},"mark":{"type":"area","color":"black","clip":true},"encoding":{"x":{"field":"t","type":"quantitative","axis":null},"y":{"field":"v","type":"quantitative","axis":null},"y2":{"field":"b"}}},
{"data":{"name":"ub"},"mark":{"type":"line","color":"black","strokeWidth":3.5,"clip":true},"encoding":{"x":{"field":"t","type":"quantitative","axis":null},"y":{"field":"b","type":"quantitative","axis":null}}},
{"data":{"name":"sb"},"mark":{"type":"rule","color":"black","strokeWidth":2,"clip":true},"encoding":{"x":{"field":"t","type":"quantitative","axis":null},"y":{"field":"lo","type":"quantitative","axis":null},"y2":{"field":"hi"}}},
{"data":{"name":"wb"},"mark":{"type":"rule","color":"white","strokeWidth":2,"clip":true},"encoding":{"x":{"field":"t","type":"quantitative","axis":null},"y":{"field":"lo","type":"quantitative","axis":null},"y2":{"field":"hi"}}},
{"data":{"name":"ib"},"mark":{"type":"line","color":"black","strokeWidth":4,"interpolate":"natural","clip":true},"encoding":{"x":{"field":"t","type":"quantitative","axis":null},"y":{"field":"i","type":"quantitative","axis":null}}},
{"data":{"values":[{}]},"mark":{"type":"text","text":"i","fontStyle":"italic","fontSize":82,"align":"left","baseline":"alphabetic"},"encoding":{"x":{"datum":0.129,"type":"quantitative","axis":null},"y":{"datum":9.403,"type":"quantitative","axis":null}}},
{"data":{"values":[{}]},"mark":{"type":"text","text":"A2","fontSize":52,"align":"left","baseline":"alphabetic"},"encoding":{"x":{"datum":0.239,"type":"quantitative","axis":null},"y":{"datum":9.325,"type":"quantitative","axis":null}}},
{"data":{"values":[{}]},"mark":{"type":"text","text":"/(2A/div)","fontSize":82,"align":"left","baseline":"alphabetic"},"encoding":{"x":{"datum":0.535,"type":"quantitative","axis":null},"y":{"datum":9.403,"type":"quantitative","axis":null}}},
{"data":{"values":[{}]},"mark":{"type":"text","text":"[2.00ms/div]","fontSize":82,"align":"right","baseline":"alphabetic"},"encoding":{"x":{"datum":7.843,"type":"quantitative","axis":null},"y":{"datum":9.4,"type":"quantitative","axis":null}}},
{"data":{"values":[{}]},"mark":{"type":"text","text":"u","fontStyle":"italic","fontSize":82,"align":"left","baseline":"alphabetic"},"encoding":{"x":{"datum":0.04,"type":"quantitative","axis":null},"y":{"datum":0.196,"type":"quantitative","axis":null}}},
{"data":{"values":[{}]},"mark":{"type":"text","text":"AB2","fontSize":52,"align":"left","baseline":"alphabetic"},"encoding":{"x":{"datum":0.2368,"type":"quantitative","axis":null},"y":{"datum":0.117,"type":"quantitative","axis":null}}},
{"data":{"values":[{}]},"mark":{"type":"text","text":"/(40V/div)","fontSize":82,"align":"left","baseline":"alphabetic"},"encoding":{"x":{"datum":0.72,"type":"quantitative","axis":null},"y":{"datum":0.196,"type":"quantitative","axis":null}}},
{"data":{"values":[{}]},"mark":{"type":"text","text":"(","fontSize":84,"align":"left","baseline":"alphabetic"},"encoding":{"x":{"datum":3.768,"type":"quantitative","axis":null},"y":{"datum":-0.861,"type":"quantitative","axis":null}}},
{"data":{"values":[{}]},"mark":{"type":"text","text":"b","fontSize":84,"fontWeight":"bold","align":"left","baseline":"alphabetic"},"encoding":{"x":{"datum":3.899,"type":"quantitative","axis":null},"y":{"datum":-0.861,"type":"quantitative","axis":null}}},
{"data":{"values":[{}]},"mark":{"type":"text","text":")","fontSize":84,"align":"left","baseline":"alphabetic"},"encoding":{"x":{"datum":4.138,"type":"quantitative","axis":null},"y":{"datum":-0.861,"type":"quantitative","axis":null}}},
{"data":{"values":[{}]},"mark":{"type":"rule","color":"#2a2a2a","strokeWidth":3},"encoding":{"x":{"datum":1.442,"type":"quantitative","axis":null},"y":{"datum":9.289,"type":"quantitative","axis":null},"x2":{"datum":1.606},"y2":{"datum":8.695}}},
{"data":{"values":[{}]},"mark":{"type":"point","shape":"M0,-1L0.85,1L-0.85,1Z","filled":true,"color":"black","opacity":1,"size":2116,"angle":155},"encoding":{"x":{"datum":1.6075,"type":"quantitative","axis":null},"y":{"datum":8.693,"type":"quantitative","axis":null}}},
{"data":{"values":[{}]},"mark":{"type":"rule","color":"#2a2a2a","strokeWidth":3},"encoding":{"x":{"datum":2.237,"type":"quantitative","axis":null},"y":{"datum":0.678,"type":"quantitative","axis":null},"x2":{"datum":2.41},"y2":{"datum":1.27}}},
{"data":{"values":[{}]},"mark":{"type":"point","shape":"M0,-1L0.85,1L-0.85,1Z","filled":true,"color":"black","opacity":1,"size":2300,"angle":27},"encoding":{"x":{"datum":2.41,"type":"quantitative","axis":null},"y":{"datum":1.271,"type":"quantitative","axis":null}}}
]}
]
}
